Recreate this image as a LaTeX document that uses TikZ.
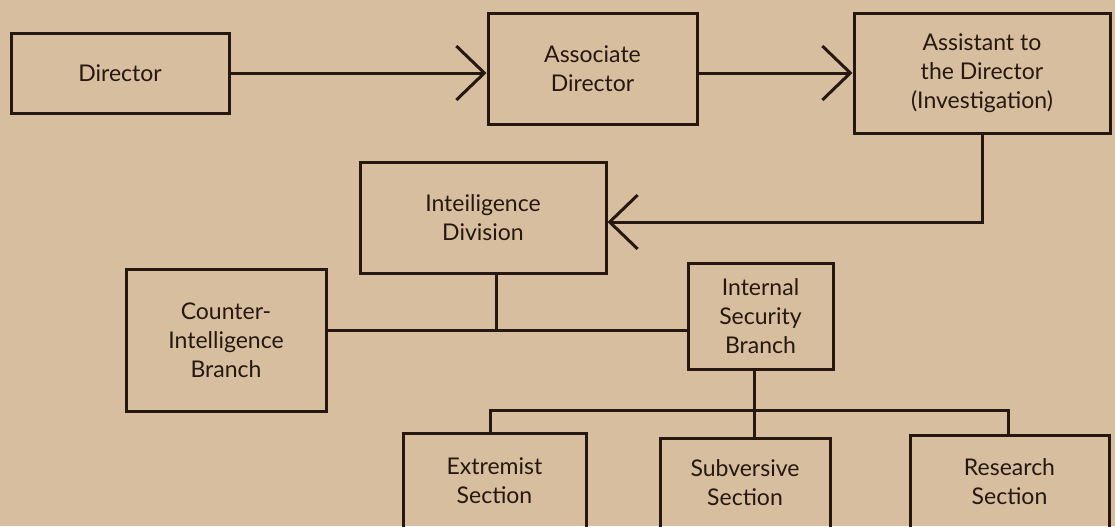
\documentclass[tikz,border=0pt]{standalone}
\usepackage{fontspec}
\setmainfont{Lato}
\usetikzlibrary{arrows.meta}
\definecolor{bg}{RGB}{214,190,158}
\definecolor{ink}{RGB}{38,24,16}
\begin{document}
\begin{tikzpicture}[x=0.5pt,y=-0.5pt,
  box/.style={draw=ink, line width=1.5pt, text=ink, align=center, inner sep=0pt,
    font=\fontsize{11.5}{14.5}\selectfont},
  link/.style={draw=ink, line width=1.5pt, line join=miter},
  arr/.style={link, -{Straight Barb[length=14pt,width=27pt]}}]
\useasboundingbox (0,0) rectangle (1115,526);
\clip (0,0) rectangle (1115,526);
\fill[bg] (0,0) rectangle (1115,526);

\node[box, minimum width=109pt, minimum height=40pt] (dir) at (120,73) {Director};
\node[box, minimum width=104.5pt, minimum height=55.5pt] (assoc) at (592.5,68.5) {Associate\\Director};
\node[box, minimum width=128pt, minimum height=60pt] (asst) at (982,73) {Assistant to\\the Director\\(Investigation)};
\node[box, minimum width=123pt, minimum height=55.5pt] (intel) at (483,218) {Inteiligence\\Division};
\node[box, minimum width=100pt, minimum height=71pt] (counter) at (226,340) {Counter-\\Intelligence\\Branch};
\node[box, minimum width=72.5pt, minimum height=53pt] (isb) at (760.5,316) {Internal\\Security\\Branch};
\node[box, minimum width=91.5pt, minimum height=48pt] (ext) at (494.5,481) {Extremist\\Section};
\node[box, minimum width=85pt, minimum height=45pt] (sub) at (745,483) {Subversive\\Section};
\node[box, minimum width=99.5pt, minimum height=47pt] (res) at (1009.5,482) {Research\\Section};

\coordinate (j1) at (496,330);
\coordinate (b1) at (490,410);
\coordinate (b2) at (754,410);
\coordinate (b3) at (1008,410);

\draw[arr] (dir.east) -- (dir.east -| assoc.west);
\draw[arr] (assoc.east |- dir.east) -- (asst.west |- dir.east);
\draw[arr] (asst.south) |- ([yshift=-2pt]intel.east);
\draw[link] (intel.south -| j1) -- (j1);
\draw[link] (counter.east |- j1) -- (isb.west |- j1);
\draw[link] (isb.south -| b2) -- (sub.north -| b2);
\draw[link] (ext.north -| b1) -- (b1) -- (b3) -- (res.north -| b3);
\end{tikzpicture}
\end{document}
